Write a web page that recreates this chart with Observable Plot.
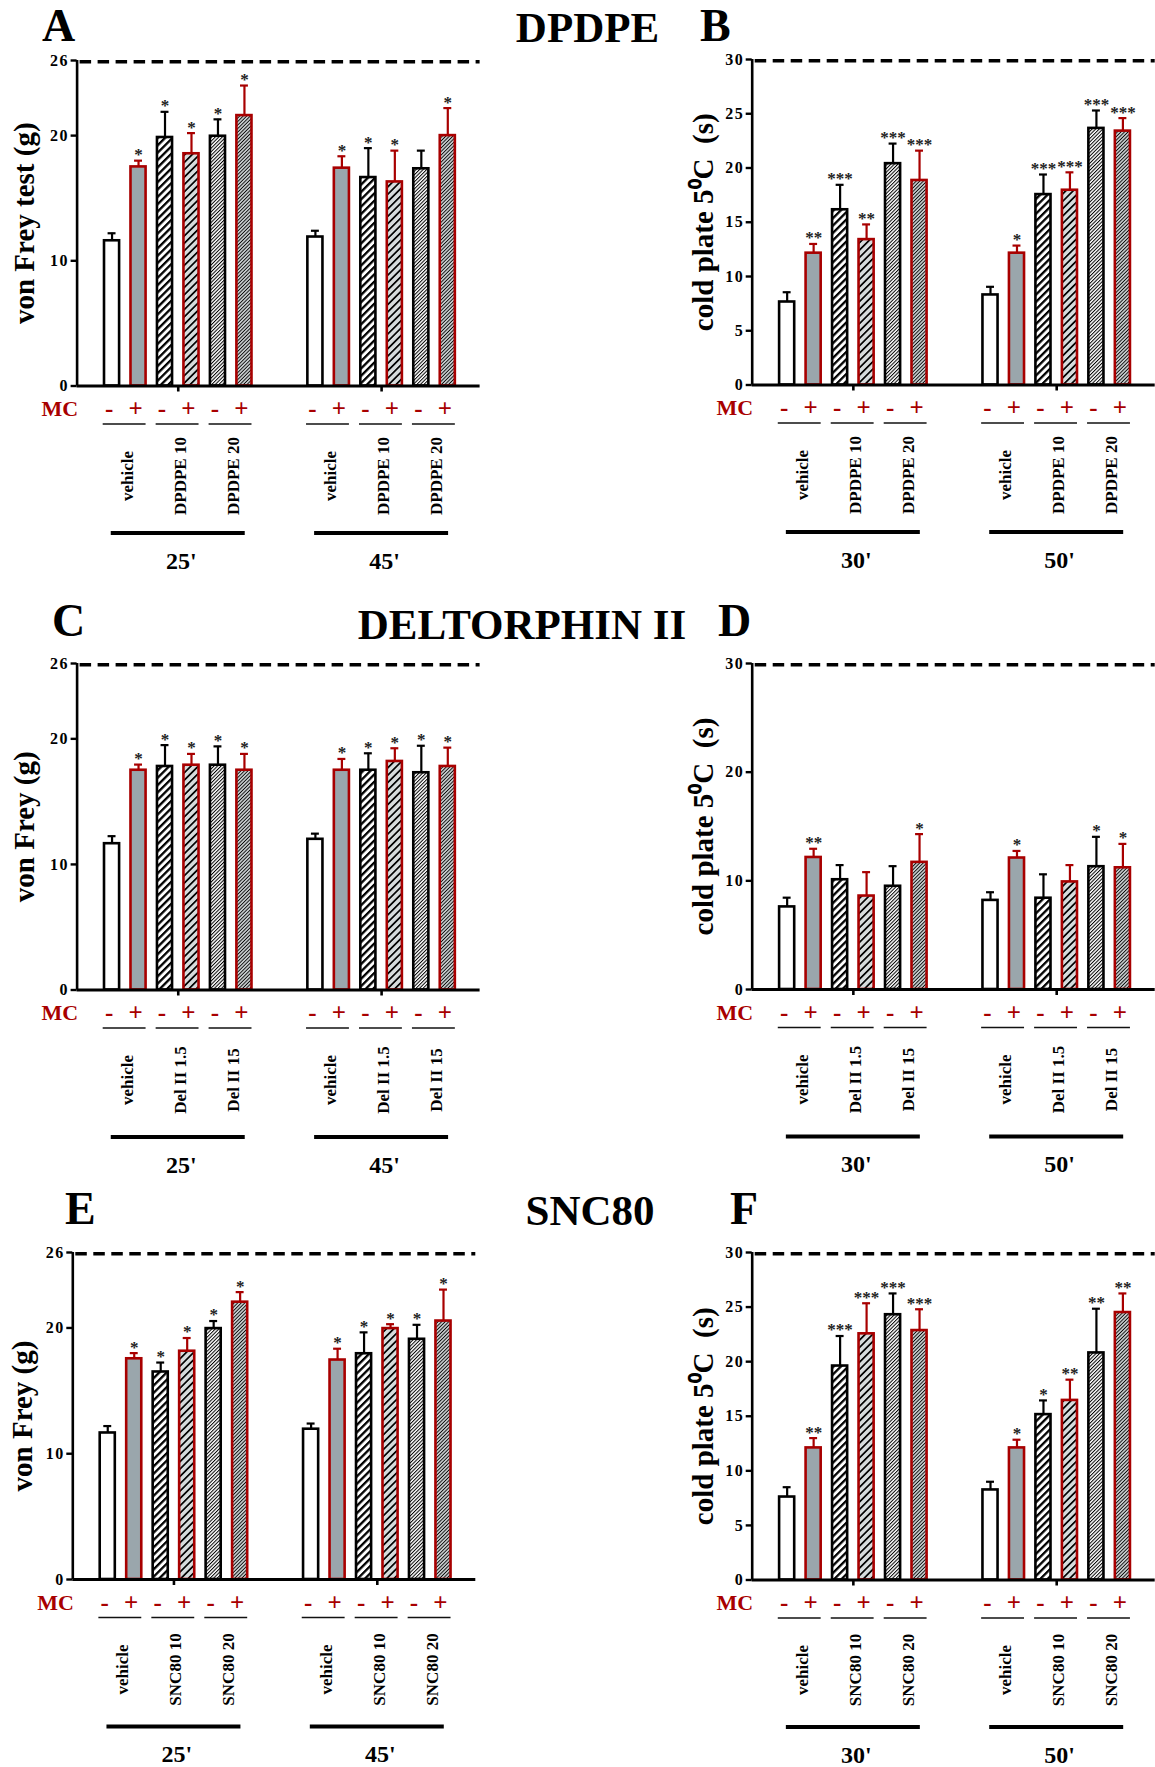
<!DOCTYPE html>
<html>
<head>
<meta charset="utf-8">
<script src="https://cdn.jsdelivr.net/npm/d3@7"></script>
<script src="https://cdn.jsdelivr.net/npm/@observablehq/plot@0.6"></script>
<style>
  html, body { margin: 0; padding: 0; background: #fff; }
  #fig { position: relative; width: 1155px; height: 1767px; overflow: hidden;
         font-family: "Liberation Serif", "Times New Roman", serif; }
  .panel { position: absolute; z-index: 1; }
  .panel svg { background: transparent !important; }
  .lbl { position: absolute; z-index: 2; font-weight: bold; line-height: 1; white-space: nowrap; color: #000; }
  g[aria-label="stars"] text { letter-spacing: 1.5px; }
  g[aria-label="doses"] text { letter-spacing: 1.2px; }
  g[aria-label="y-axis tick label"] text { letter-spacing: 1.5px; font-size: 16px; font-weight: bold; }
</style>
</head>
<body>
<div id="fig">
  <svg width="0" height="0" style="position:absolute;left:0;top:0">
    <defs>
      <pattern id="pWide" patternUnits="userSpaceOnUse" width="5.2" height="5.2" patternTransform="rotate(45)">
        <rect width="5.2" height="5.2" fill="#ffffff"></rect>
        <rect width="2.3" height="5.2" fill="#000000"></rect>
      </pattern>
      <pattern id="pWideG" patternUnits="userSpaceOnUse" width="5.2" height="5.2" patternTransform="rotate(45)">
        <rect width="5.2" height="5.2" fill="#d6dbdc"></rect>
        <rect width="1.7" height="5.2" fill="#000000"></rect>
      </pattern>
      <pattern id="pFine" patternUnits="userSpaceOnUse" width="2.5" height="2.5" patternTransform="rotate(45)">
        <rect width="2.5" height="2.5" fill="#ffffff"></rect>
        <rect width="1.0" height="2.5" fill="#000000"></rect>
      </pattern>
      <pattern id="pFineG" patternUnits="userSpaceOnUse" width="2.5" height="2.5" patternTransform="rotate(45)">
        <rect width="2.5" height="2.5" fill="#c3c8c9"></rect>
        <rect width="0.8" height="2.5" fill="#000000"></rect>
      </pattern>
    </defs>
  </svg>
</div>
<script>
// ---------------- data ----------------
const TIMES_VF = ["25'", "45'"];
const TIMES_CP = ["30'", "50'"];
const MC_SIGNS = ["-", "+"];
const MC_LABEL = "MC";
const DOSES_DPDPE = ["vehicle", "DPDPE 10", "DPDPE 20"];
const DOSES_DEL = ["vehicle", "Del II 1.5", "Del II 15"];
const DOSES_SNC = ["vehicle", "SNC80 10", "SNC80 20"];
const TICKS_VF = [0, 10, 20, 26];
const TICKS_CP5 = [0, 5, 10, 15, 20, 25, 30];
const TICKS_CP10 = [0, 10, 20, 30];
const CUTOFF_VF = 26;
const CUTOFF_CP = 30;
const LABEL_VF_TEST = "von Frey test (g)";
const LABEL_VF = "von Frey (g)";
const LABEL_CP = "cold plate 5\u2070C  (s)";
const TITLES = ["DPDPE", "DELTORPHIN II", "SNC80"];
const LETTERS = ["A", "B", "C", "D", "E", "F"];

// bar order in each time group: vehicle -, vehicle +, low -, low +, high -, high +
const A_MEAN = [11.6, 17.5, 19.85, 18.55, 19.95, 21.6,   11.9, 17.4, 16.65, 16.3, 17.35, 20.0];
const A_SEM  = [0.6, 0.5, 2.05, 1.65, 1.35, 2.4,          0.5, 0.95, 2.35, 2.5, 1.45, 2.2];
const A_SIG  = ["", "*", "*", "*", "*", "*",              "", "*", "*", "*", "", "*"];

const B_MEAN = [7.65, 12.15, 16.15, 13.4, 20.4, 18.85,    8.3, 12.15, 17.55, 17.95, 23.65, 23.4];
const B_SEM  = [0.9, 0.85, 2.3, 1.4, 1.85, 2.75,          0.75, 0.7, 1.85, 1.65, 1.65, 1.2];
const B_SIG  = ["", "**", "***", "**", "***", "***",      "", "*", "***", "***", "***", "***"];

const C_MEAN = [11.65, 17.5, 17.8, 17.9, 17.9, 17.5,      12.0, 17.5, 17.5, 18.2, 17.3, 17.8];
const C_SEM  = [0.6, 0.45, 1.7, 0.9, 1.5, 1.3,            0.45, 0.9, 1.35, 1.05, 2.15, 1.5];
const C_SIG  = ["", "*", "*", "*", "*", "*",              "", "*", "*", "*", "*", "*"];

const D_MEAN = [7.6, 12.15, 10.1, 8.6, 9.5, 11.7,         8.2, 12.1, 8.4, 9.9, 11.3, 11.2];
const D_SEM  = [0.85, 0.8, 1.35, 2.2, 1.85, 2.6,          0.75, 0.65, 2.2, 1.55, 2.75, 2.2];
const D_SIG  = ["", "**", "", "", "", "*",                "", "*", "", "", "*", "*"];

const E_MEAN = [11.65, 17.55, 16.5, 18.15, 19.95, 22.05,  11.95, 17.45, 17.95, 19.95, 19.1, 20.55];
const E_SEM  = [0.55, 0.45, 0.75, 1.05, 0.6, 0.8,         0.45, 0.9, 1.7, 0.35, 1.15, 2.5];
const E_SIG  = ["", "*", "*", "*", "*", "*",              "", "*", "*", "*", "*", "*"];

const F_MEAN = [7.6, 12.1, 19.6, 22.55, 24.3, 22.85,      8.25, 12.1, 15.15, 16.45, 20.8, 24.5];
const F_SEM  = [0.9, 0.9, 2.75, 2.8, 1.95, 1.95,          0.75, 0.75, 1.3, 1.9, 4.05, 1.75];
const F_SIG  = ["", "**", "***", "***", "***", "***",     "", "*", "*", "**", "**", "**"];

// ---------------- layout & style ----------------
const RED = "#a80000";
const SERIF = "'Liberation Serif', 'Times New Roman', serif";
const X_DOMAIN = [-1.32, 13.9];
const GROUP_STEP = 7.68;
const BAR_HALF = 0.285;
const CAP_HALF = 0.15;
const PLOT_W = 403;
const MT = 16;
const STYLES = [
  {fill: "#ffffff", stroke: "#000000"},
  {fill: "#9aa6ac", stroke: RED},
  {fill: "url(#pWide)", stroke: "#000000"},
  {fill: "url(#pWideG)", stroke: RED},
  {fill: "url(#pFine)", stroke: "#000000"},
  {fill: "url(#pFineG)", stroke: RED}
];

const PANELS = [
  {left: 0,   W: 580, axisX: 76.6,  top: 59.5,  y0: 385,   MB: 195, yMax: CUTOFF_VF, ticks: TICKS_VF,   yLabel: LABEL_VF_TEST, labelDx: -52, doses: DOSES_DPDPE, times: TIMES_VF, mean: A_MEAN, sem: A_SEM, sig: A_SIG},
  {left: 580, W: 575, axisX: 751.7, top: 59,    y0: 384.5, MB: 195, yMax: CUTOFF_CP, ticks: TICKS_CP5,  yLabel: LABEL_CP,      labelDx: -48, doses: DOSES_DPDPE, times: TIMES_CP, mean: B_MEAN, sem: B_SEM, sig: B_SIG},
  {left: 0,   W: 580, axisX: 76.6,  top: 662.8, y0: 989.3, MB: 195, yMax: CUTOFF_VF, ticks: TICKS_VF,   yLabel: LABEL_VF,      labelDx: -52, doses: DOSES_DEL,   times: TIMES_VF, mean: C_MEAN, sem: C_SEM, sig: C_SIG},
  {left: 580, W: 575, axisX: 751.7, top: 663,   y0: 989,   MB: 195, yMax: CUTOFF_CP, ticks: TICKS_CP10, yLabel: LABEL_CP,      labelDx: -48, doses: DOSES_DEL,   times: TIMES_CP, mean: D_MEAN, sem: D_SEM, sig: D_SIG},
  {left: 0,   W: 580, axisX: 72.3,  top: 1252,  y0: 1579,  MB: 188, yMax: CUTOFF_VF, ticks: TICKS_VF,   yLabel: LABEL_VF,      labelDx: -50, doses: DOSES_SNC,   times: TIMES_VF, mean: E_MEAN, sem: E_SEM, sig: E_SIG},
  {left: 580, W: 575, axisX: 751.7, top: 1251.5,y0: 1579,  MB: 188, yMax: CUTOFF_CP, ticks: TICKS_CP5,  yLabel: LABEL_CP,      labelDx: -48, doses: DOSES_SNC,   times: TIMES_CP, mean: F_MEAN, sem: F_SEM, sig: F_SIG}
];

const LETTER_POS = [
  {left: 42, base: 42}, {left: 700, base: 42},
  {left: 52, base: 637},  {left: 718, base: 637},
  {left: 65, base: 1225}, {left: 730, base: 1225}
];
const TITLE_POS = [
  {center: 587.5, base: 42}, {center: 522, base: 639}, {center: 590, base: 1225}
];

const fig = document.getElementById("fig");

function buildPanel(p) {
  const data = p.mean.map((m, k) => {
    const g = Math.floor(k / 6), i = k % 6;
    return {k, g, i, pos: g * GROUP_STEP + i, mean: m, top: m + p.sem[k], star: p.sig[k]};
  });
  const pairs = [];
  const groups = [];
  p.times.forEach((t, g) => {
    p.doses.forEach((dose, j) => {
      const a = g * GROUP_STEP + 2 * j;
      pairs.push({x1: a - BAR_HALF - 0.05, x2: a + 1 + BAR_HALF, center: a + 0.5, label: dose});
    });
    groups.push({center: g * GROUP_STEP + 2.5, label: t});
  });

  const marks = [];
  STYLES.forEach((s, si) => {
    marks.push(Plot.rect(data.filter(d => d.i === si), {
      x1: d => d.pos - BAR_HALF, x2: d => d.pos + BAR_HALF, y1: 0, y2: "mean",
      fill: s.fill, stroke: s.stroke, strokeWidth: 2.6
    }));
  });
  [0, 1].forEach(mc => {
    const col = mc ? RED : "#000000";
    const sub = data.filter(d => d.i % 2 === mc);
    marks.push(Plot.ruleX(sub, {x: "pos", y1: "mean", y2: "top", stroke: col, strokeWidth: 2.2}));
    marks.push(Plot.ruleY(sub, {y: "top", x1: d => d.pos - CAP_HALF, x2: d => d.pos + CAP_HALF, stroke: col, strokeWidth: 2.2}));
  });
  // cutoff dashed line
  marks.push(Plot.ruleY([p.yMax], {strokeDasharray: "11.5 6.5", strokeWidth: 3.6, dy: 1.2, strokeDashoffset: -3}));
  // axes
  marks.push(Plot.ruleX([X_DOMAIN[0]], {y1: 0, y2: p.yMax, strokeWidth: 2.6}));
  marks.push(Plot.ruleY([0], {strokeWidth: 2.8}));
  marks.push(Plot.axisY(p.ticks, {
    tickSize: 6, tickPadding: 2, strokeWidth: 2.4, label: null, tickFormat: d => String(d),
    fontSize: 16, fontWeight: "bold", fontFamily: SERIF
  }));
  marks.push(Plot.axisX(groups.map(d => d.center), {tickSize: 6, strokeWidth: 2.6, label: null, tickFormat: () => ""}));
  // significance stars
  marks.push(Plot.text(data.filter(d => d.star), {
    x: "pos", y: "top", text: "star", dy: -6, fontSize: 17, fill: "#222", fontWeight: "bold",
    fontFamily: SERIF, ariaLabel: "stars"
  }));
  // y-axis title
  marks.push(Plot.text([p.yLabel], {
    frameAnchor: "left", textAnchor: "middle", lineAnchor: "middle", rotate: -90, dx: p.labelDx,
    fontSize: 29, fontWeight: "bold", fontFamily: SERIF
  }));
  // MC row
  marks.push(Plot.text([MC_LABEL], {
    frameAnchor: "bottom-left", textAnchor: "end", lineAnchor: "middle", dx: 1, dy: 23,
    fontSize: 22, fontWeight: "bold", fill: RED, fontFamily: SERIF
  }));
  marks.push(Plot.text(data, {
    x: "pos", text: d => MC_SIGNS[d.i % 2], frameAnchor: "bottom", lineAnchor: "middle", dx: -3, dy: 23,
    fontSize: 25, fontWeight: "bold", fill: RED, fontFamily: SERIF
  }));
  // pair underlines
  marks.push(Plot.ruleY(pairs, {y: 0, x1: "x1", x2: "x2", dy: 38, stroke: "#111", strokeWidth: 1.5}));
  // dose labels (rotated)
  marks.push(Plot.text(pairs, {
    x: "center", text: "label", frameAnchor: "bottom", textAnchor: "middle", lineAnchor: "middle",
    rotate: -90, dx: 2, dy: 90, fontSize: 17, fontWeight: "bold", fontFamily: SERIF, ariaLabel: "doses"
  }));
  // time groups
  marks.push(Plot.ruleY(groups, {y: 0, x1: d => d.center - 2.53, x2: d => d.center + 2.53, dy: 147, strokeWidth: 3.8}));
  marks.push(Plot.text(groups, {
    x: "center", text: "label", frameAnchor: "bottom", lineAnchor: "middle", dx: 3, dy: 175,
    fontSize: 24, fontWeight: "bold", fontFamily: SERIF
  }));

  const marginLeft = p.axisX - p.left;
  const plotH = p.y0 - p.top;
  const chart = Plot.plot({
    width: p.W,
    height: MT + plotH + p.MB,
    marginTop: MT,
    marginBottom: p.MB,
    marginLeft: marginLeft,
    marginRight: p.W - marginLeft - PLOT_W,
    x: {type: "linear", domain: X_DOMAIN},
    y: {type: "linear", domain: [0, p.yMax]},
    style: {fontFamily: SERIF, fontSize: "16px", fontWeight: "bold", color: "#000", background: "transparent", overflow: "visible"},
    marks
  });
  const div = document.createElement("div");
  div.className = "panel";
  div.style.left = p.left + "px";
  div.style.top = (p.top - MT) + "px";
  div.style.width = p.W + "px";
  div.appendChild(chart);
  fig.appendChild(div);
}

PANELS.forEach(buildPanel);

function addLabel(text, left, base, size, center) {
  const d = document.createElement("div");
  d.className = "lbl";
  d.textContent = text;
  d.style.fontSize = size + "px";
  d.style.top = (base - 0.8375 * size) + "px";
  if (center) {
    d.style.left = (left - 300) + "px";
    d.style.width = "600px";
    d.style.textAlign = "center";
  } else {
    d.style.left = left + "px";
  }
  fig.appendChild(d);
}
LETTERS.forEach((L, i) => addLabel(L, LETTER_POS[i].left, LETTER_POS[i].base, 46, false));
TITLES.forEach((t, i) => addLabel(t, TITLE_POS[i].center, TITLE_POS[i].base, 43, true));
</script>
</body>
</html>
